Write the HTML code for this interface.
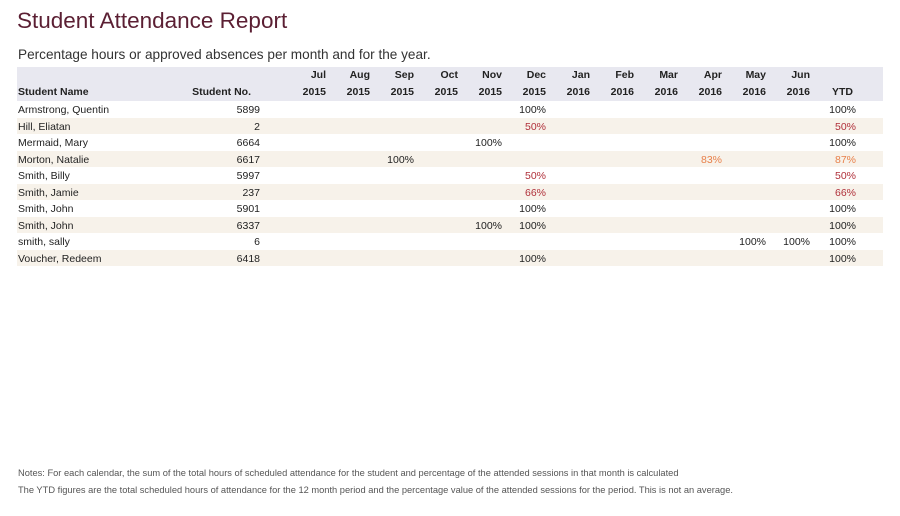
<!DOCTYPE html>
<html><head><meta charset="utf-8"><style>
body{margin:0;width:900px;height:516px;background:#fff;font-family:"Liberation Sans",sans-serif;position:relative;overflow:hidden}
.a{position:absolute;white-space:nowrap}
#title{left:17px;top:8px;font-size:22.5px;color:#5b1f33}
#sub{left:18px;top:47px;font-size:13.6px;color:#333}
#hdr{left:17px;top:67px;width:866px;height:34px;background:#e8e8f0}
.h{font-size:10.5px;font-weight:bold;color:#222}
.c{font-size:10.5px;color:#222}
.note{font-size:9.3px;color:#555;left:18px}
</style></head><body>
<div class="a" id="title">Student Attendance Report</div>
<div class="a" id="sub">Percentage hours or approved absences per month and for the year.</div>
<div class="a" id="hdr"></div>
<div id="tbl"></div>
<div class="a note" style="top:468px">Notes: For each calendar, the sum of the total hours of scheduled attendance for the student and percentage of the attended sessions in that month is calculated</div>
<div class="a note" style="top:485px">The YTD figures are the total scheduled hours of attendance for the 12 month period and the percentage value of the attended sessions for the period. This is not an average.</div>
<script>
const months=["Jul","Aug","Sep","Oct","Nov","Dec","Jan","Feb","Mar","Apr","May","Jun"];
const years=["2015","2015","2015","2015","2015","2015","2016","2016","2016","2016","2016","2016"];
const names=["Armstrong, Quentin","Hill, Eliatan","Mermaid, Mary","Morton, Natalie","Smith, Billy","Smith, Jamie","Smith, John","Smith, John","smith, sally","Voucher, Redeem"];
const ids=["5899","2","6664","6617","5997","237","5901","6337","6","6418"];
const vals=[
[null,null,null,null,null,100,null,null,null,null,null,null],
[null,null,null,null,null,50,null,null,null,null,null,null],
[null,null,null,null,100,null,null,null,null,null,null,null],
[null,null,100,null,null,null,null,null,null,83,null,null],
[null,null,null,null,null,50,null,null,null,null,null,null],
[null,null,null,null,null,66,null,null,null,null,null,null],
[null,null,null,null,null,100,null,null,null,null,null,null],
[null,null,null,null,100,100,null,null,null,null,null,null],
[null,null,null,null,null,null,null,null,null,null,100,100],
[null,null,null,null,null,100,null,null,null,null,null,null]];
const ytd=[100,50,100,87,50,66,100,100,100,100];
const T=document.getElementById('tbl');
function col(v){return v<=70?'#b0303a':(v<100?'#e8804a':'#222');}
function mk(txt,cls,l,t,right,name,color){
 const d=document.createElement('div');d.className='a '+cls;d.textContent=txt;
 d.style.top=t+'px';
 if(right){d.style.right=(900-l)+'px';}else d.style.left=l+'px';
 if(color)d.style.color=color;
 
 
 T.appendChild(d);return d;}
function colX(i){return 326+i*44;}
mk("Student Name","h",18,86,false,"header-student-name");
mk("Student No.","h",251,86,true,"header-student-no");
months.forEach((m,i)=>{
 mk(m,"h",colX(i),69,true,"header-month");
 mk(years[i],"h",colX(i),86,true,"header-year");
});
mk("YTD","h",853,86,true,"header-ytd");
const rowH=16.5,top0=101;
names.forEach((n,r)=>{
 const y=top0+r*rowH;
 if(r%2==1){const b=document.createElement('div');b.className='a';
  b.style.cssText='left:17px;width:866px;height:'+rowH+'px;top:'+y+'px;background:#f7f2ea';
  
  
  T.appendChild(b);}
 const ty=y+3;
 mk(n,"c",18,ty,false,"student-name");
 mk(ids[r],"c",260,ty,true,"student-no");
 vals[r].forEach((v,i)=>{if(v!==null)mk(v+"%","c",colX(i),ty,true,"month-value",col(v));});
 mk(ytd[r]+"%","c",856,ty,true,"ytd-value",col(ytd[r]));
});
</script>
</body></html>
